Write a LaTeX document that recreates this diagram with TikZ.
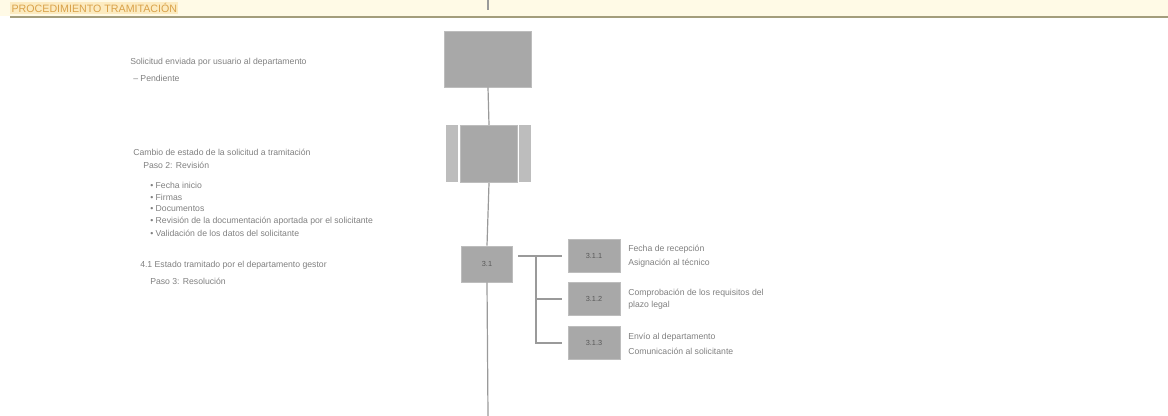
\documentclass[tikz,border=0pt]{standalone}
\usepackage{fontspec}
\setmainfont{Liberation Sans}
\definecolor{txt}{HTML}{808080}
\definecolor{boxg}{HTML}{A8A8A8}
\definecolor{boxl}{HTML}{BDBDBD}
\definecolor{band}{HTML}{FFFAE6}
\definecolor{rulec}{HTML}{A39D7C}
\definecolor{hdr}{HTML}{D9A24A}
\definecolor{hdrbg}{HTML}{FCEBC0}
\definecolor{linec}{HTML}{9A9A9A}
\begin{document}
\begin{tikzpicture}[x=0.75pt,y=-0.75pt,
  every node/.style={inner sep=0pt},
  lbl/.style={anchor=west,text=txt,font=\fontsize{6.5}{7.5}\selectfont},
  gbox/.style={fill=boxg,draw=boxl,line width=0.6pt},
  conn/.style={draw=linec,line width=0.9pt}]
\useasboundingbox (0,0) rectangle (1168,416);
% header band
\fill[band] (0,0) rectangle (1168,16);
\draw[rulec,line width=1.6pt] (10,17) -- (1168,17);
\node[anchor=west,fill=hdrbg,text=hdr,font=\fontsize{8}{9}\selectfont,inner xsep=1pt,inner ysep=1pt] (hdr) at (10,8) {PROCEDIMIENTO TRAMITACIÓN};
% main boxes
\node[gbox,minimum width=65pt,minimum height=42pt] (b1) at (488,59) {};
\fill[boxl] (446,125) rectangle (458,182);
\fill[boxl] (519,125) rectangle (531,182);
\node[gbox,minimum width=43pt,minimum height=43pt] (b2) at (489,154) {};
\node[gbox,minimum width=38pt,minimum height=27pt,text=black!65,font=\fontsize{5.5}{6.5}\selectfont] (b3) at (487,264) {3.1};
% sub boxes
\node[gbox,minimum width=39pt,minimum height=25pt,text=black!65,font=\fontsize{5.5}{6.5}\selectfont] (s1) at (594,256) {3.1.1};
\node[gbox,minimum width=39pt,minimum height=25pt,text=black!65,font=\fontsize{5.5}{6.5}\selectfont] (s2) at (594,299) {3.1.2};
\node[gbox,minimum width=39pt,minimum height=25pt,text=black!65,font=\fontsize{5.5}{6.5}\selectfont] (s3) at (594,343) {3.1.3};
% connectors
\coordinate (top) at (488,0);
\coordinate (topend) at (488,10);
\coordinate (bot) at (488,416);
\coordinate (br) at (536,256);
\coordinate (bs) at (518,256);
\draw[conn] (top) -- (topend);
\draw[conn] (b1.south) -- (b2.north);
\draw[conn] (b2.south) -- (b3.north);
\draw[conn] (b3.south) -- (bot);
\draw[conn] (bs) -- (br);
\draw[conn] (br) -- ([xshift=-4pt]s1.west);
\draw[conn] (br) |- ([xshift=-4pt]s2.west);
\draw[conn] (br) |- ([xshift=-4pt]s3.west);
% left texts
\node[lbl] (t1) at (130,62) {Solicitud enviada por usuario al departamento};
\node[lbl] (t2) at (133,78) {– Pendiente};
\node[lbl] (t3) at (133,152) {Cambio de estado de la solicitud a tramitación};
\node[lbl] (t4) at (143,165) {Paso 2: Revisión};
\node[lbl] (t5) at (150,185) {• Fecha inicio};
\node[lbl] (t6) at (150,197) {• Firmas};
\node[lbl] (t7) at (150,209) {• Documentos};
\node[lbl] (t8) at (150,221) {• Revisión de la documentación aportada por el solicitante};
\node[lbl] (t9) at (150,233) {• Validación de los datos del solicitante};
\node[lbl] (t10) at (140,265) {4.1 Estado tramitado por el departamento gestor};
\node[lbl] (t11) at (150,281) {Paso 3: Resolución};
% right labels
\node[lbl] (r1) at (628,249) {Fecha de recepción};
\node[lbl] (r1b) at (628,263) {Asignación al técnico};
\node[lbl] (r2) at (628,293) {Comprobación de los requisitos del};
\node[lbl] (r2b) at (628,305) {plazo legal};
\node[lbl] (r3) at (628,337) {Envío al departamento};
\node[lbl] (r3b) at (628,351) {Comunicación al solicitante};
\end{tikzpicture}
\end{document}
